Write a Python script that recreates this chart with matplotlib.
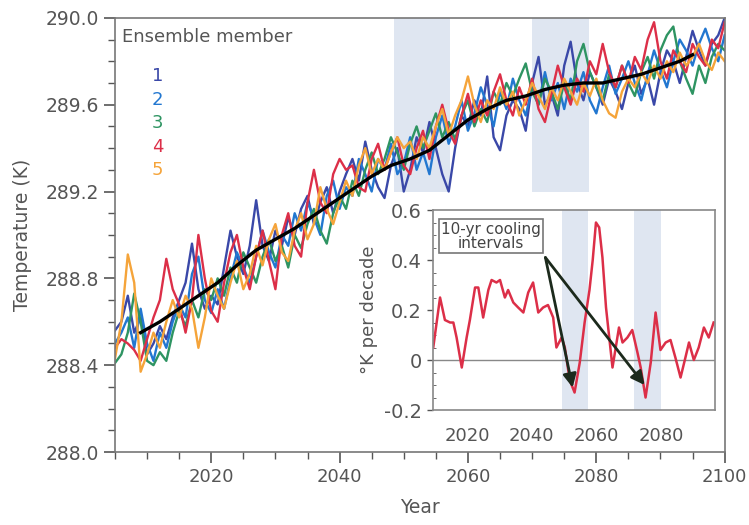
import numpy as np
import matplotlib
matplotlib.use('Agg')
import matplotlib.pyplot as plt
from matplotlib.ticker import MultipleLocator

# ================================
# DATA
# ================================

years = np.arange(2005, 2101)

member1 = [288.56, 288.60, 288.72, 288.55, 288.62, 288.45, 288.50, 288.58, 288.52, 288.62,
           288.70, 288.78, 288.96, 288.75, 288.66, 288.72, 288.68, 288.85, 289.02, 288.90,
           288.82, 288.95, 289.16, 288.95, 288.88, 289.02, 288.95, 289.08, 289.00, 289.12,
           289.18, 289.05, 289.15, 289.22, 289.10, 289.20, 289.28, 289.35, 289.25, 289.43,
           289.30, 289.22, 289.17, 289.32, 289.40, 289.20, 289.30, 289.45, 289.38, 289.52,
           289.40, 289.28, 289.20, 289.40, 289.55, 289.50, 289.62, 289.55, 289.73, 289.45,
           289.39, 289.55, 289.62, 289.58, 289.48, 289.70, 289.82, 289.60, 289.65, 289.55,
           289.78, 289.89, 289.70, 289.62, 289.75, 289.68, 289.60, 289.72, 289.66, 289.58,
           289.70, 289.78, 289.65, 289.72, 289.60, 289.75, 289.85, 289.80, 289.70, 289.82,
           289.94, 289.85, 289.78, 289.88, 289.92, 290.00]

member2 = [288.50, 288.55, 288.62, 288.48, 288.66, 288.50, 288.42, 288.55, 288.48, 288.60,
           288.68, 288.62, 288.82, 288.90, 288.70, 288.64, 288.75, 288.66, 288.80, 288.92,
           288.85, 288.78, 288.90, 289.02, 288.92, 288.85, 289.00, 288.95, 289.10, 289.02,
           289.15, 289.08, 289.00, 289.18, 289.25, 289.12, 289.22, 289.18, 289.35, 289.28,
           289.20, 289.35, 289.30, 289.42, 289.28, 289.33, 289.45, 289.30, 289.38, 289.28,
           289.45, 289.55, 289.42, 289.50, 289.62, 289.48, 289.56, 289.68, 289.60, 289.50,
           289.66, 289.58, 289.72, 289.62, 289.55, 289.68, 289.60, 289.75, 289.62, 289.70,
           289.58, 289.72, 289.66, 289.75, 289.62, 289.56, 289.68, 289.78, 289.65, 289.72,
           289.80, 289.70, 289.62, 289.74, 289.85, 289.76, 289.68, 289.80, 289.90, 289.85,
           289.78, 289.88, 289.95, 289.86, 289.80, 289.92]

member3 = [288.41, 288.45, 288.55, 288.73, 288.60, 288.42, 288.40, 288.46, 288.42, 288.55,
           288.65, 288.58, 288.70, 288.62, 288.75, 288.70, 288.80, 288.72, 288.85, 288.78,
           288.92, 288.85, 288.78, 288.90, 288.98, 288.88, 288.95, 288.85, 289.00, 288.94,
           289.05, 289.12, 289.02, 288.96, 289.10, 289.18, 289.12, 289.25, 289.18, 289.30,
           289.38, 289.28, 289.35, 289.45, 289.38, 289.30, 289.42, 289.50, 289.40, 289.48,
           289.56, 289.45, 289.52, 289.44, 289.55, 289.62, 289.50, 289.58, 289.52, 289.66,
           289.60, 289.70, 289.64, 289.72, 289.79, 289.66, 289.60, 289.72, 289.66, 289.58,
           289.70, 289.62, 289.80, 289.88, 289.75, 289.68, 289.62, 289.74, 289.68, 289.78,
           289.70, 289.64, 289.75, 289.82, 289.72, 289.85, 289.92, 289.96, 289.80, 289.72,
           289.65, 289.78, 289.70, 289.82, 289.88, 289.85]

member4 = [288.48, 288.52, 288.50, 288.47, 288.42, 288.52, 288.62, 288.70, 288.89, 288.75,
           288.68, 288.55, 288.70, 289.00, 288.80, 288.65, 288.60, 288.78, 288.92, 289.00,
           288.85, 288.75, 288.90, 289.02, 288.88, 288.75, 289.00, 289.10, 288.95, 288.90,
           289.15, 289.30, 289.15, 289.10, 289.28, 289.35, 289.30, 289.32, 289.22, 289.20,
           289.35, 289.42, 289.30, 289.38, 289.45, 289.32, 289.28, 289.40, 289.48, 289.35,
           289.50, 289.60, 289.48, 289.42, 289.55, 289.65, 289.52, 289.62, 289.55, 289.66,
           289.74, 289.62, 289.55, 289.68, 289.60, 289.72, 289.58, 289.52, 289.65, 289.78,
           289.68, 289.60, 289.72, 289.66, 289.80, 289.74, 289.88, 289.75, 289.68, 289.78,
           289.70, 289.82, 289.76, 289.90, 289.98, 289.80, 289.72, 289.85, 289.80, 289.75,
           289.88, 289.82, 289.78, 289.90, 289.86, 289.98]

member5 = [288.43, 288.60, 288.91, 288.78, 288.37, 288.45, 288.55, 288.48, 288.60, 288.70,
           288.62, 288.72, 288.66, 288.48, 288.62, 288.80, 288.72, 288.66, 288.78, 288.88,
           288.75, 288.82, 288.95, 288.86, 288.98, 289.05, 288.92, 288.88, 289.02, 289.10,
           288.98, 289.05, 289.22, 289.12, 289.05, 289.15, 289.25, 289.18, 289.32, 289.40,
           289.28, 289.35, 289.30, 289.38, 289.45, 289.40, 289.43, 289.35, 289.45, 289.40,
           289.50, 289.58, 289.46, 289.55, 289.62, 289.73, 289.60, 289.52, 289.62, 289.58,
           289.68, 289.60, 289.66, 289.55, 289.62, 289.70, 289.64, 289.58, 289.68, 289.62,
           289.72, 289.66, 289.60, 289.70, 289.64, 289.72, 289.62, 289.56, 289.54, 289.66,
           289.72, 289.68, 289.75, 289.70, 289.78, 289.72, 289.80, 289.75, 289.84, 289.78,
           289.82, 289.88, 289.80, 289.76, 289.84, 289.80]

mean_years = [2009, 2012, 2015, 2018, 2021, 2024, 2027, 2030, 2033, 2036, 2039, 2042,
              2045, 2048, 2051, 2054, 2057, 2060, 2063, 2066, 2069, 2072, 2075, 2078,
              2081, 2084, 2087, 2090, 2093, 2095]
mean_temp = [288.55, 288.60, 288.66, 288.72, 288.78, 288.86, 288.93, 288.98, 289.03,
             289.09, 289.15, 289.21, 289.27, 289.32, 289.35, 289.39, 289.46, 289.53,
             289.58, 289.62, 289.64, 289.67, 289.69, 289.70, 289.70, 289.72, 289.74,
             289.77, 289.80, 289.83]

# 10-yr trend of one member (inset)
trend_years = [2009.6, 2011.7, 2013.2, 2014.8, 2015.8, 2016.8, 2018.4, 2019.9, 2020.9,
               2022.5, 2023.5, 2025.0, 2026.6, 2027.6, 2029.1, 2030.2, 2031.7, 2032.7,
               2034.3, 2035.8, 2037.4, 2038.9, 2040.4, 2042.0, 2043.5, 2045.0, 2046.6,
               2047.6, 2049.2, 2050.2, 2051.7, 2053.2, 2054.8, 2056.3, 2057.8, 2058.8,
               2059.8, 2060.8, 2061.8, 2062.9, 2063.9, 2064.9, 2065.9, 2066.9, 2068.0,
               2069.5, 2071.0, 2072.6, 2073.6, 2075.1, 2076.7, 2078.2, 2079.7, 2081.3,
               2082.8, 2084.3, 2085.9, 2087.4, 2088.5, 2090.0, 2091.5, 2093.1, 2094.6,
               2096.1]
trend_vals = [0.05, 0.25, 0.16, 0.15, 0.15, 0.09, -0.03, 0.09, 0.16, 0.29, 0.29, 0.17,
              0.28, 0.32, 0.31, 0.32, 0.25, 0.28, 0.23, 0.21, 0.19, 0.27, 0.31, 0.19,
              0.21, 0.22, 0.17, 0.05, 0.09, 0.05, -0.08, -0.13, -0.01, 0.15, 0.28, 0.40,
              0.55, 0.53, 0.41, 0.21, 0.09, -0.03, 0.05, 0.13, 0.07, 0.09, 0.12, 0.03,
              -0.03, -0.15, -0.01, 0.19, 0.04, 0.07, 0.08, 0.01, -0.07, 0.01, 0.07, 0.00,
              0.05, 0.13, 0.09, 0.15]

cooling = [(2048.5, 2057.2), (2070.0, 2078.8)]
cooling_inset = [(2049.2, 2057.2), (2071.6, 2080.0)]

member_labels = ["1", "2", "3", "4", "5"]
member_colors = ["#3a48a8", "#2277d0", "#2e9462", "#dc2f48", "#f5a43a"]

# ================================
# FIGURE
# ================================

plt.rcParams['font.family'] = ['DejaVu Sans']
grey = "#555555"
band = "#dfe6f1"

fig = plt.figure(figsize=(7.49, 5.25), dpi=100)
ax = fig.add_axes([0.1535, 0.139, 0.814, 0.827])

for x0, x1 in cooling:
    ax.axvspan(x0, x1, ymin=0.6, ymax=1.0, color=band, lw=0, zorder=0)

members = [member1, member2, member3, member4, member5]
for vals, c in zip(members, member_colors):
    ax.plot(years, vals, color=c, lw=1.7, zorder=2)

ax.plot(mean_years, mean_temp, color="black", lw=2.4, zorder=3)

ax.set_xlim(2005, 2100)
ax.set_ylim(288.0, 290.0)
ax.xaxis.set_minor_locator(MultipleLocator(5))
ax.yaxis.set_major_locator(MultipleLocator(0.4))
ax.yaxis.set_minor_locator(MultipleLocator(0.1))
ax.set_xticks([2020, 2040, 2060, 2080, 2100])
ax.yaxis.set_major_formatter(plt.FuncFormatter(lambda v, p: f"{v:.1f}"))
ax.tick_params(which="major", direction="out", length=8, width=1.2, colors=grey,
               labelsize=13.5, labelcolor=grey)
ax.tick_params(axis="x", labelsize=13)
ax.tick_params(which="minor", direction="out", length=5, width=1.0, colors=grey)
for s in ax.spines.values():
    s.set_color("#777777")
    s.set_linewidth(1.2)

ax.set_xlabel("Year", fontsize=13.5, color=grey, labelpad=9)
ax.set_ylabel("Temperature (K)", fontsize=13.5, color=grey, labelpad=10)

ax.text(0.012, 0.955, "Ensemble member", transform=ax.transAxes, fontsize=13,
        color=grey, va="center", ha="left")
for i, (lab, c) in enumerate(zip(member_labels, member_colors)):
    ax.text(0.07, 0.865 - i * 0.054, lab, transform=ax.transAxes, fontsize=13,
            color=c, va="center", ha="center")

# ================================
# INSET
# ================================

ins = fig.add_axes([0.578, 0.219, 0.3765, 0.381])
ins.set_facecolor("white")
for x0, x1 in cooling_inset:
    ins.axvspan(x0, x1, color=band, lw=0, zorder=0)
ins.axhline(0, color="#888888", lw=1.0, zorder=1)
ins.plot(trend_years, trend_vals, color="#dc2f48", lw=1.8, zorder=2)

ins.set_xlim(2009.5, 2096.5)
ins.set_ylim(-0.2, 0.6)
ins.set_xticks([2020, 2040, 2060, 2080])
ins.set_yticks([-0.2, 0, 0.2, 0.4, 0.6])
ins.set_yticklabels(["-0.2", "0", "0.2", "0.4", "0.6"])
ins.yaxis.set_minor_locator(MultipleLocator(0.05))
ins.tick_params(which="major", direction="out", length=4, width=1.0, colors=grey,
                labelsize=14, labelcolor=grey, pad=4)
ins.tick_params(axis="x", length=0, labelsize=13, pad=12)
ins.tick_params(which="minor", direction="in", length=2.5, colors=grey)
for s in ins.spines.values():
    s.set_color("#888888")
    s.set_linewidth(1.2)
ins.set_ylabel("°K per decade", fontsize=13, color=grey, labelpad=4)

ins.text(2027.5, 0.495, "10-yr cooling\nintervals", fontsize=11, color="#444444",
         ha="center", va="center", linespacing=0.95,
         bbox=dict(boxstyle="square,pad=0.15", fc="white", ec="#777777", lw=1.2))
for tip in [(2052.6, -0.11), (2074.8, -0.10)]:
    ins.annotate("", xy=tip, xytext=(2044.2, 0.41),
                 arrowprops=dict(arrowstyle="-|>", color="#1c2a1c", lw=2.0,
                                 mutation_scale=20, shrinkA=0, shrinkB=0))

fig.savefig("out.png", dpi=100)
